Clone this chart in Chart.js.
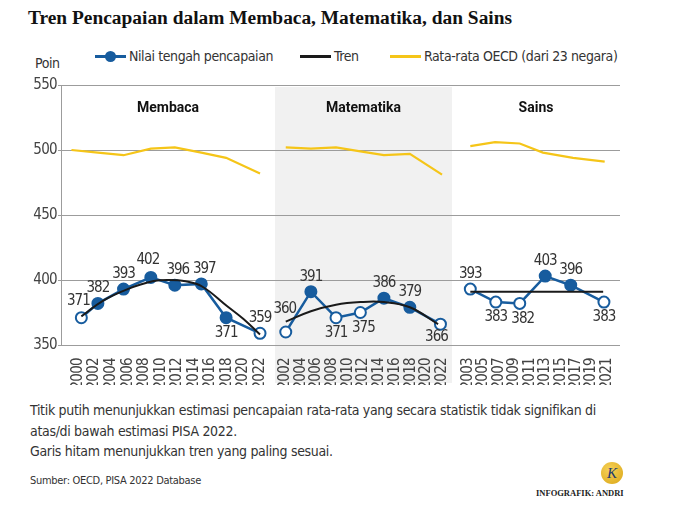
<!DOCTYPE html>
<html>
<head>
<meta charset="utf-8">
<script src="https://cdn.jsdelivr.net/npm/chart.js@4.4.1/dist/chart.umd.min.js"></script>
<style>
  body { margin: 0; width: 680px; height: 523px; background: #fff; position: relative; overflow: hidden;
         font-family: 'DejaVu Sans Condensed', 'DejaVu Sans', sans-serif; font-stretch: condensed; color: #333; }
  #title { position: absolute; left: 28px; top: 7px; font: bold 19.4px 'Liberation Serif', serif; color: #111; white-space: nowrap; }
  #chartBox { position: absolute; left: 0; top: 0; width: 680px; height: 400px; }
  .leg { position: absolute; top: 46px; height: 20px; line-height: 20px; font-size: 14px; letter-spacing: -0.4px; color: #333; white-space: nowrap; }
  .leg i { display: inline-block; position: relative; width: 31px; height: 20px; vertical-align: top; margin-right: 3px; }
  .leg i::before { content: ''; position: absolute; left: 0; right: 0; top: 9px; height: 2.5px; background: var(--c); }
  .leg i.dot::after { content: ''; position: absolute; left: 10px; top: 5px; width: 11px; height: 11px; border-radius: 50%; background: var(--c); }
  #poin { position: absolute; left: 35px; top: 55px; font-size: 14px; letter-spacing: -0.4px; color: #333; }
  #note { position: absolute; left: 30px; top: 400px; font-size: 14px; letter-spacing: -0.32px; line-height: 20.5px; color: #333; }
  #source { position: absolute; left: 30px; top: 474px; font-size: 11px; letter-spacing: -0.3px; color: #333; }
  #logo { position: absolute; left: 601px; top: 462px; width: 22px; height: 22px; border-radius: 50%;
          background: radial-gradient(circle at 40% 35%, #f7d25a, #d9a514); color: #1d3a6e;
          font: italic 15px 'Liberation Serif', serif; text-align: center; line-height: 22px; }
  #credit { position: absolute; left: 536px; top: 488px; font: bold 8.5px 'Liberation Serif', serif; color: #222; white-space: nowrap; }
</style>
</head>
<body>
<div id="title">Tren Pencapaian dalam Membaca, Matematika, dan Sains</div>
<div class="leg" style="left:95px"><i class="dot" style="--c:#175c9e"></i>Nilai tengah pencapaian</div>
<div class="leg" style="left:300px"><i style="--c:#1a1a1a"></i>Tren</div>
<div class="leg" style="left:390px"><i style="--c:#f5c518"></i>Rata-rata OECD (dari 23 negara)</div>
<div id="poin">Poin</div>
<div id="chartBox"><canvas id="chart"></canvas></div>
<div id="note">Titik putih menunjukkan estimasi pencapaian rata-rata yang secara statistik tidak signifikan di<br>atas/di bawah estimasi PISA 2022.<br>Garis hitam menunjukkan tren yang paling sesuai.</div>
<div id="source">Sumber: OECD, PISA 2022 Database</div>
<div id="logo">K</div>
<div id="credit">INFOGRAFIK: ANDRI</div>
<script>
// tick labels per panel
const membacaTicks = [2000, 2002, 2004, 2006, 2008, 2010, 2012, 2014, 2016, 2018, 2020, 2022];
const matematikaTicks = [2002, 2004, 2006, 2008, 2010, 2012, 2014, 2016, 2018, 2020, 2022];
const sainsTicks = [2003, 2005, 2007, 2009, 2011, 2013, 2015, 2017, 2019, 2021];

// Membaca
const membacaYears = [2000.4, 2002.4, 2005.5, 2008.8, 2011.7, 2014.9, 2017.9, 2022];
const membacaScores = [371, 382, 393, 402, 396, 397, 371, 359];
const membacaOpen = [true, false, false, false, false, false, false, true];
const membacaLabelSide = ['upl', 'up', 'up', 'upl', 'upr', 'upr', 'down', 'up'];
const membacaTrendYears = [2000.4, 2003, 2006, 2009, 2011, 2013, 2015, 2018, 2020, 2022];
const membacaTrend = [372, 384, 393, 399, 400, 399, 395, 380, 370, 358];
const membacaOecdYears = [1999.2, 2002.4, 2005.5, 2008.8, 2011.7, 2014.9, 2017.9, 2022];
const membacaOecd = [500, 498, 496, 501, 502, 498, 494, 482];

// Matematika
const matematikaYears = [2002.1, 2005.3, 2008.5, 2011.6, 2014.6, 2017.9, 2021.8];
const matematikaScores = [360, 391, 371, 375, 386, 379, 366];
const matematikaOpen = [true, false, true, true, false, false, true];
const matematikaLabelSide = ['high', 'up', 'down', 'downr', 'up', 'up', 'downl'];
const matematikaTrendYears = [2002.1, 2005.3, 2008.5, 2011.6, 2014.6, 2017.9, 2021.5];
const matematikaTrend = [368, 376, 381, 383, 383, 379, 366];
const matematikaOecdYears = [2002.1, 2005.3, 2008.5, 2011.6, 2014.6, 2017.9, 2022];
const matematikaOecd = [502, 501, 502, 499, 496, 497, 481];

// Sains
const sainsYears = [2003.3, 2006.6, 2009.7, 2013.0, 2016.3, 2020.6];
const sainsScores = [393, 383, 382, 403, 396, 383];
const sainsOpen = [true, true, true, false, false, true];
const sainsLabelSide = ['up', 'down', 'downr', 'up', 'up', 'down'];
const sainsTrendYears = [2003.3, 2020.5];
const sainsTrend = [391, 391];
const sainsOecdYears = [2003.3, 2006.5, 2009.7, 2012.7, 2016.6, 2020.7];
const sainsOecd = [503, 506, 505, 498, 494, 491];

const BLUE = '#175c9e';
const YELLOW = '#f5c518';
const COND = "'DejaVu Sans Condensed', 'DejaVu Sans', sans-serif";
const LABEL_OFFSET = {
  up: [0, -15], upl: [-3, -17], upr: [3, -15], high: [-1, -23],
  down: [0, 15], downl: [-4, 13], downr: [3, 16]
};

const pts = (xs, ys) => xs.map((x, i) => ({ x, y: ys[i] }));

function panelSets(axis, years, scores, open, side, tYears, trend, oYears, oecd) {
  return [
    { data: pts(oYears, oecd), xAxisID: axis, borderColor: YELLOW, borderWidth: 2.2, pointRadius: 0, order: 3 },
    { data: pts(years, scores), xAxisID: axis, borderColor: BLUE, borderWidth: 2.5,
      pointRadius: 5.5, pointBorderWidth: 2, pointBorderColor: BLUE,
      pointBackgroundColor: open.map(o => o ? '#fff' : BLUE), labelSide: side, order: 2 },
    { data: pts(tYears, trend), xAxisID: axis, borderColor: '#1a1a1a', borderWidth: 2, pointRadius: 0, tension: 0.4, order: 1 }
  ];
}

const valueLabels = {
  id: 'valueLabels',
  afterDatasetsDraw(chart) {
    const ctx = chart.ctx;
    ctx.save();
    ctx.font = '15px ' + COND;
    ctx.letterSpacing = '-1px';
    ctx.fillStyle = '#333';
    ctx.textAlign = 'center';
    ctx.textBaseline = 'middle';
    chart.data.datasets.forEach((ds, i) => {
      if (!ds.labelSide) return;
      chart.getDatasetMeta(i).data.forEach((pt, j) => {
        const [dx, dy] = LABEL_OFFSET[ds.labelSide[j]];
        ctx.fillText(ds.data[j].y, pt.x + dx, pt.y + dy);
      });
    });
    ctx.restore();
  }
};

const panels = {
  id: 'panels',
  beforeDraw(chart) {
    const { ctx, chartArea, scales } = chart;
    const m = scales.xT;
    ctx.save();
    ctx.fillStyle = '#f1f1f1';
    ctx.fillRect(m.left, chartArea.top + 2, m.right - m.left, chartArea.bottom + 38 - chartArea.top - 2);
    ctx.restore();
    // narrower tick text, applies to the axes drawn next
    ctx.letterSpacing = '-0.7px';
  },
  beforeDatasetsDraw(chart) {
    chart.ctx.letterSpacing = '0px';
  },
  afterDraw(chart) {
    const { ctx, chartArea, scales } = chart;
    ctx.save();
    ctx.font = 'bold 14px Roboto, sans-serif';
    ctx.fillStyle = '#111';
    ctx.textAlign = 'center';
    ctx.textBaseline = 'middle';
    [['xM', 'Membaca'], ['xT', 'Matematika'], ['xS', 'Sains']].forEach(([id, name]) => {
      const s = scales[id];
      ctx.fillText(name, (s.left + s.right) / 2, chartArea.top + 23);
    });
    ctx.restore();
  }
};

function xAxis(ticks, weight, min, max) {
  return {
    type: 'linear', position: 'bottom', stack: 'panels', stackWeight: weight,
    min, max,
    grid: { display: false },
    border: { display: false },
    ticks: { autoSkip: false, minRotation: 90, maxRotation: 90, padding: 5, color: '#444',
             font: { family: COND, size: 15 }, callback: v => String(v) },
    afterBuildTicks: ax => { ax.ticks = ticks.map(v => ({ value: v })); },
    afterFit: ax => { ax.height = 40; }
  };
}

new Chart(document.getElementById('chart'), {
  type: 'line',
  data: {
    datasets: [
      ...panelSets('xM', membacaYears, membacaScores, membacaOpen, membacaLabelSide,
                   membacaTrendYears, membacaTrend, membacaOecdYears, membacaOecd),
      ...panelSets('xT', matematikaYears, matematikaScores, matematikaOpen, matematikaLabelSide,
                   matematikaTrendYears, matematikaTrend, matematikaOecdYears, matematikaOecd),
      ...panelSets('xS', sainsYears, sainsScores, sainsOpen, sainsLabelSide,
                   sainsTrendYears, sainsTrend, sainsOecdYears, sainsOecd)
    ]
  },
  options: {
    responsive: true,
    maintainAspectRatio: false,
    animation: false,
    layout: { padding: { left: 21, right: 60, top: 85, bottom: 15 } },
    plugins: { legend: { display: false }, tooltip: { enabled: false } },
    scales: {
      xM: xAxis(membacaTicks, 214, 1997.94, 2023.81),
      xT: xAxis(matematikaTicks, 177, 2000.73, 2023.27),
      xS: xAxis(sainsTicks, 168, 2000.93, 2022.68),
      y: {
        position: 'left', min: 350, max: 550,
        grid: { color: '#9c9c9c', tickLength: 3 },
        border: { color: '#9c9c9c' },
        ticks: { stepSize: 50, padding: 1, color: '#444', font: { family: COND, size: 15 } },
        afterFit: ax => { ax.width = 40; }
      }
    }
  },
  plugins: [panels, valueLabels]
});
</script>
</body>
</html>
